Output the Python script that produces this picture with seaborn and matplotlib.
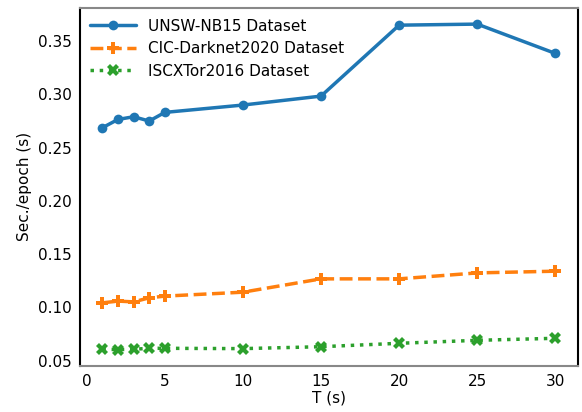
import seaborn as sns
import pandas as pd
import matplotlib.pyplot as plt

t_values = [1, 2, 3, 4, 5, 10, 15, 20, 25, 30]
unsw = [0.2687, 0.2765, 0.279, 0.275, 0.2831, 0.290, 0.2984, 0.365, 0.366, 0.3385]
cic = [0.1043, 0.1059, 0.1052, 0.109, 0.1106, 0.1143, 0.1268, 0.1268, 0.1324, 0.134]
iscx = [0.0607, 0.0604, 0.0607, 0.0616, 0.0616, 0.0613, 0.0631, 0.0663, 0.0691, 0.071]

sns.set_style("white")
plt.rcParams['font.family'] = ['DejaVu Sans']
plt.rcParams['text.color'] = 'black'
plt.rcParams['axes.labelcolor'] = 'black'
plt.rcParams['xtick.labelcolor'] = 'black'
plt.rcParams['ytick.labelcolor'] = 'black'

fig, ax = plt.subplots(figsize=(5.82, 4.12), dpi=100)
fig.subplots_adjust(left=0.137, right=0.993, top=0.981, bottom=0.112)

# one line per dataset
sns.lineplot(x=t_values, y=unsw, ax=ax, color="#1f77b4", marker="o", markersize=7,
             linewidth=2.5, markeredgewidth=0, label="UNSW-NB15 Dataset")
sns.lineplot(x=t_values, y=cic, ax=ax, color="#ff7f0e", marker="P", markersize=8,
             linewidth=2.5, linestyle="--", markeredgewidth=0, label="CIC-Darknet2020 Dataset")
sns.lineplot(x=t_values, y=iscx, ax=ax, color="#2ca02c", marker="X", markersize=8,
             linewidth=2.5, linestyle=":", markeredgewidth=0, label="ISCXTor2016 Dataset")

ax.set_xlabel("T (s)", fontsize=11, labelpad=1)
ax.set_ylabel("Sec./epoch (s)", fontsize=11)
ax.set_xticks([0, 5, 10, 15, 20, 25, 30])
ax.set_yticks([0.05, 0.10, 0.15, 0.20, 0.25, 0.30, 0.35])
ax.tick_params(labelsize=11, color="blue", length=2, width=2, direction="in", pad=6)

for side in ["left", "right"]:
    ax.spines[side].set_color("black")
for side in ["top", "bottom"]:
    ax.spines[side].set_color("#888888")
for s in ax.spines.values():
    s.set_linewidth(1.5)

ax.legend(loc="upper left", fontsize=11, frameon=False, handlelength=3, borderaxespad=0.3)

plt.savefig("out.png", dpi=100)
